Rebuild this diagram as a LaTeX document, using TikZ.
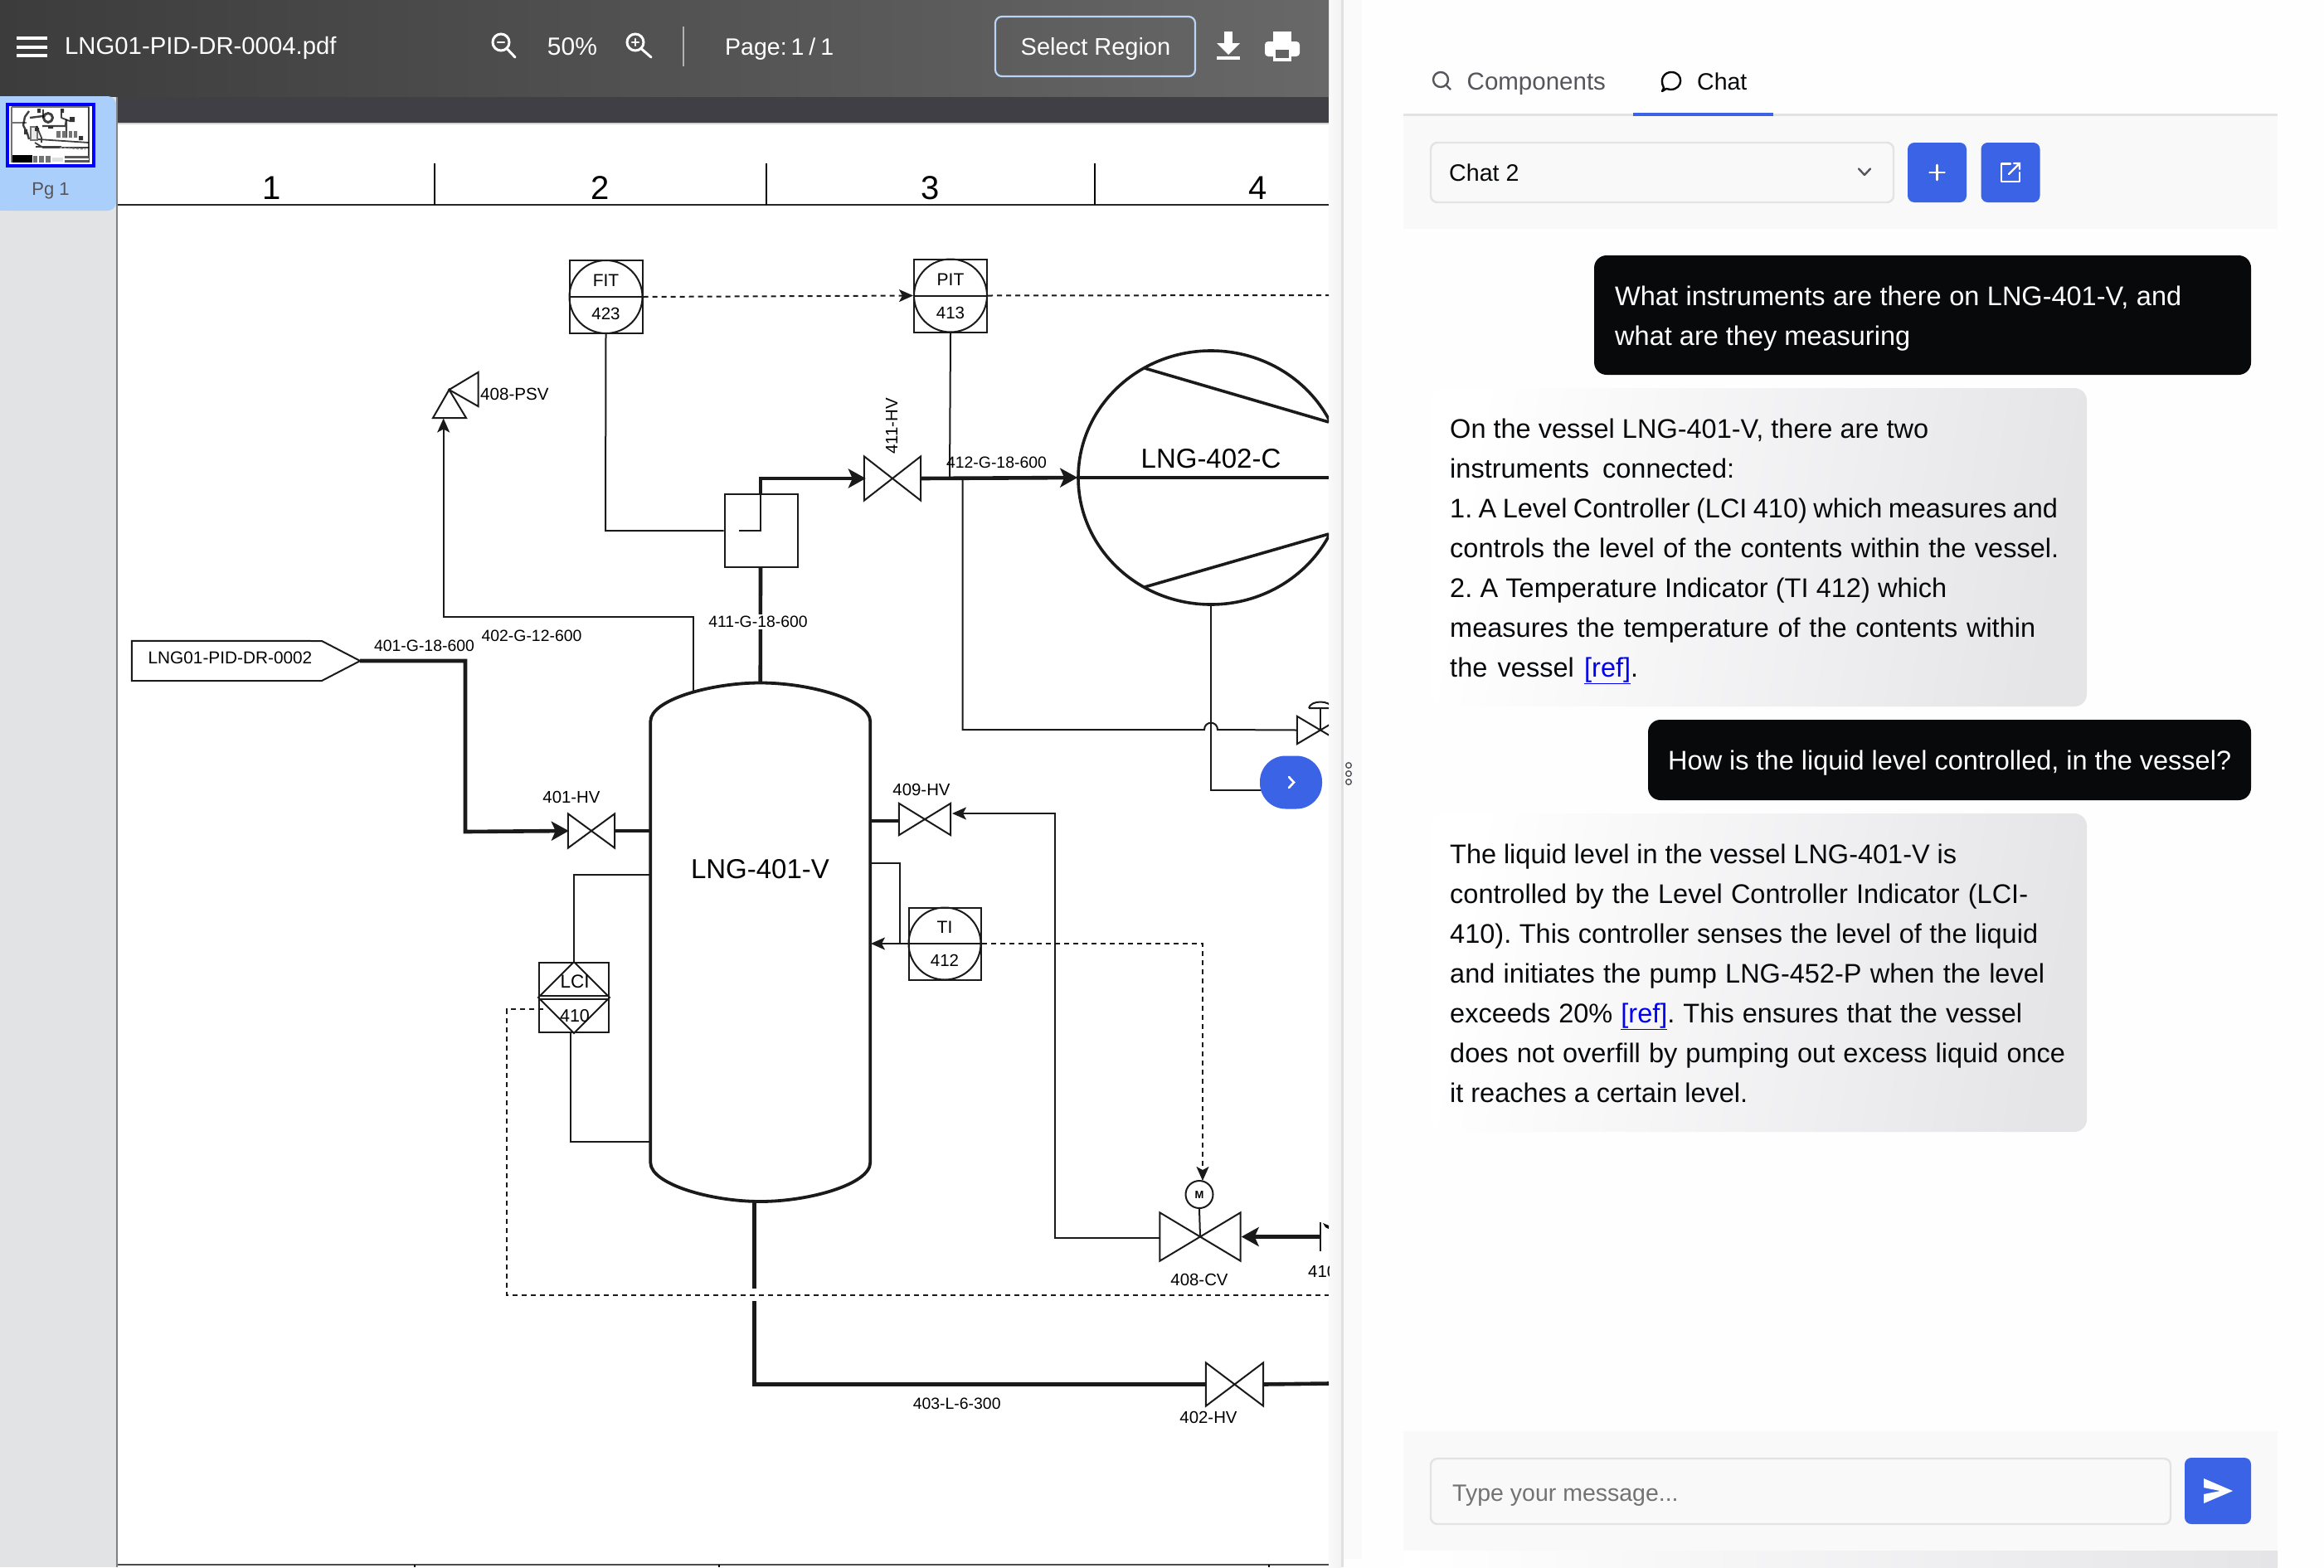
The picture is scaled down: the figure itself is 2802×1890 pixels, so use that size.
\documentclass[tikz,border=0pt]{standalone}
\usepackage{fontspec}
\setmainfont{Liberation Sans}
\usetikzlibrary{arrows.meta,shapes.geometric,calc}
\definecolor{hdL}{HTML}{3C3C3C}
\definecolor{hdR}{HTML}{686868}
\definecolor{hdDark}{HTML}{3F3F45}
\definecolor{sideG}{HTML}{E2E3E5}
\definecolor{sideB}{HTML}{ABCFFB}
\definecolor{uiBlue}{HTML}{3B63E5}
\definecolor{ink}{HTML}{08090B}
\definecolor{mut}{HTML}{55555C}
\definecolor{linew}{HTML}{E3E3E3}
\definecolor{pan}{HTML}{F9F9F9}
\definecolor{bg}{HTML}{FEFEFE}
\definecolor{bub}{HTML}{E5E5E8}
\definecolor{lnk}{HTML}{0000EE}
\definecolor{selb}{HTML}{B9D4F4}
\definecolor{pipe}{HTML}{1A1A1A}
\newcommand\fs[1]{\fontsize{#1}{#1}\selectfont}
% one chat line, set to the width it has in the picture
\newcommand\cl[2]{\hbox to #1pt{\spaceskip=.2em plus 1fil\relax #2}}
% label: [options]{name}{x}{y-centre of caps}{size}{text}
\newcommand\lab[6][]{\node[anchor=base,inner sep=0pt,font=\fs{#5},#1] (#2) at (#3,{#4+0.358*#5}) {#6};}
% valve: name, x, y, w, h
\newcommand\vlv[5]{\node[inner sep=0pt,minimum width=#4pt,minimum height=#5pt] (#1) at (#2,#3) {};
  \draw[thin line,fill=white] (#1.north west)--(#1.south east)--(#1.north east)--(#1.south west)--cycle;}
% instrument: name, x, y, w, h, top, bottom
\newcommand\instr[7]{\node[draw=pipe,line width=2pt,inner sep=0pt,minimum width=#4pt,minimum height=#5pt,fill=white] (#1) at (#2,#3) {};
  \draw[thin line] (#1.center) ellipse [x radius={#4*0.5pt},y radius={#5*0.5pt}];
  \draw[thin line] (#1.west)--(#1.east);
  \lab{#1t}{#2}{#3-20}{21}{#6}\lab{#1b}{#2}{#3+20.5}{20.5}{#7}}
\tikzset{
 thin line/.style={line width=2pt,draw=pipe},
 thick line/.style={line width=4.6pt,draw=pipe},
 sig line/.style={line width=2pt,draw=pipe,dash pattern=on 6pt off 5pt},
 small tip/.style={-{Stealth[length=17pt,width=15pt,inset=4pt]}},
 big tip/.style={-{Stealth[length=21pt,width=23pt,inset=5pt]}},
 ui/.style={inner sep=0pt,rounded corners=8pt},
 userbub/.style={fill=ink,rounded corners=15pt},
 botbub/.style={rounded corners=15pt,left color=white,right color=bub,shading angle=80},
 chatt/.style={anchor=north west,align=left,inner sep=0pt,font=\fontsize{32.5}{48}\selectfont\frenchspacing},
 icon/.style={line width=3pt,draw=white,line cap=round},
 thumbline/.style={line width=2.4pt,draw=black,opacity=.75,line join=round},
}
\begin{document}
\begin{tikzpicture}[x=1pt,y=-1pt]
\useasboundingbox (0,0) rectangle (2802,1890);
% page backgrounds
\fill[bg] (0,0) rectangle (2802,1890);
\fill[sideG] (0,116) rectangle (140,1890);
\shade[left color=black!2,right color=black!5] (1602,0) rectangle (1617,1890);
\fill[black!12] (1617,0) rectangle (1620,1890);
\fill[black!2] (1620,0) rectangle (1642,1880);
% paper
\fill[white] (142,148) rectangle (1602,1890);
\fill[black!18] (142,147) rectangle (1602,150);
\fill[hdDark] (141,116) rectangle (1602,148);
\fill[black!50] (140,116) rectangle (142,1890);
% ---------- P&ID
\begin{scope}
\clip (142,150) rectangle (1602,1890);
% ruler
\draw[line width=2.6pt,draw=black!85] (142,247)--(1602,247);
\coordinate (r1) at (524,197);\coordinate (r2) at (924,197);\coordinate (r3) at (1320,197);
\foreach \c in {r1,r2,r3}{\draw[line width=1.6pt] (\c) -- ++(0,50);}
\lab{n1}{328}{226.5}{40}{1}\lab{n2}{724}{226.5}{40}{2}\lab{n3}{1122}{226.5}{40}{3}\lab{n4}{1517}{226.5}{40}{4}
\draw[line width=2.4pt,draw=black!70] (142,1887)--(1602,1887);
\foreach \xx in {500,867,1530}{\draw[line width=1.6pt] (\xx,1887)--(\xx,1890);}
% vessel
\node[inner sep=0pt,minimum width=264.5pt,minimum height=532pt] (vessel) at (916.75,1136) {};
\draw[line width=3.8pt,draw=pipe,fill=white] (vessel.north west)
  .. controls (784.5,844) and (857,823.5) .. (916.75,823.5)
  .. controls (976,823.5) and (1049,844) .. (vessel.north east)
  -- (vessel.south east)
  .. controls (1049,1428) and (976,1449) .. (916.75,1449)
  .. controls (857,1449) and (784.5,1428) .. (vessel.south west) -- cycle;
\coordinate (vtop) at (916.75,823.5);
\lab{vesselt}{916.5}{1048}{33}{LNG-401-V}
% compressor
\node[draw=pipe,line width=3.6pt,ellipse,inner sep=0pt,minimum width=320pt,minimum height=306pt] (comp) at (1460,576) {};
\coordinate (cb1) at (1380,444);\coordinate (cb2) at (1602,509);\coordinate (cb3) at (1380,708);\coordinate (cb4) at (1602,644);
\draw[line width=3.6pt,draw=pipe] (cb1)--(cb2) (cb3)--(cb4);
\coordinate (cend) at (1602,576);
\draw[thick line] (comp.west)--(cend);
\lab{compt}{1460}{553}{33}{LNG-402-C}
% instruments
\instr{fit}{730.5}{358}{88}{88}{FIT}{423}
\instr{pit}{1146}{356.5}{88}{88}{PIT}{413}
\instr{ti}{1139}{1138}{87}{87}{TI}{412}
% LCI
\node[draw=pipe,line width=2pt,inner sep=0pt,minimum width=84pt,minimum height=84pt,fill=white] (lci) at (692,1203) {};
\draw[thin line] (lci.north)--(lci.east)--(lci.south)--(lci.west)--cycle;
\draw[thin line] ($(lci.west)+(0,-2)$)--($(lci.east)+(0,-2)$) ($(lci.west)+(0,2)$)--($(lci.east)+(0,2)$);
\lab{lcit}{693}{1183.5}{22.5}{LCI}\lab{lcib}{693}{1224.5}{21.5}{410}
% mixer box
\node[draw=pipe,line width=2pt,fill=white,inner sep=0pt,minimum width=88pt,minimum height=88pt] (mix) at (917.5,640) {};
\coordinate (mixin) at (891,640);\coordinate (mixup) at (917,640);
% valves
\vlv{hv411}{1076}{577}{68}{53}
\vlv{hv401}{713}{1002}{56}{41}
\vlv{hv409}{1115}{988}{62}{38}
\vlv{cv408}{1447}{1491.5}{97}{58}
\vlv{hv402}{1488.5}{1669.5}{69}{52}
\vlv{hvs}{1592}{880.5}{56}{33}
% M
\node[draw=pipe,line width=2pt,circle,inner sep=0pt,minimum size=33pt,fill=white] (mot) at (1446,1440.5) {};
\lab[font=\bfseries\fs{13}]{mott}{1446}{1440.5}{13}{M}
\draw[thin line] (mot.south)--(cv408.center);
% small valve actuator
\coordinate (act) at (1592,855);
\draw[thin line] (hvs.center)--(act);
\draw[thin line] (1578,854)--(1606,854) (1578,854) .. controls (1580,844) and (1604,844) .. (1606,854);
% tag
\node[inner sep=0pt,minimum width=275pt,minimum height=48pt] (tag) at (296.5,797) {};
\draw[thin line] (tag.north west)--(388,773)--(tag.east)--(388,821)--(tag.south west)--cycle;
\lab{tagt}{277.5}{793}{20.8}{LNG01-PID-DR-0002}
% thick pipes
\draw[thick line,big tip] (mix.north -| mixup)--(917,577)--($(hv411.west)+(2,0)$);
\draw[thick line,big tip] (hv411.east)--($(comp.west)+(1,0)$);
\draw[thick line,big tip] (tag.east)--(561,797)--(561,1003)--($(hv401.west)+(1,0)$);
\draw[thick line] (hv401.east)--(hv401.east -| vessel.west);
\draw[thick line] (1049,990)--(1083.5,990);
\coordinate (b1) at (909.5,1449);\coordinate (b2) at (909.5,1554);\coordinate (b3) at (909.5,1569);
\draw[thick line] (b1)--(b2) (b3)--(b3 |- hv402.west)--(hv402.west);
\coordinate (hv402out) at (1602,1668.5);
\draw[thick line] (hv402.east)--(hv402out);
\coordinate (cvin) at (1592,1491.5);
\draw[thick line,big tip] (cvin)--($(cv408.east)+(1,0)$);
\draw[thin line] (1592.3,1474)--(1592.3,1509);
\fill[black] (1595,1475)--(1602,1478)--(1602,1482)--(1598,1480)--cycle;
% mixer
\draw[thick line] (917,683.5)--(vtop);
\draw[thin line] (fit.south)--(730,640)--(mix.west);
\draw[thin line] (mixin)--(mixup)--(917,596);
% thin pipes
\draw[thin line] (pit.south)--(1145,577);
\draw[thin line] (1160.7,577)--(1160.7,880)--(1452,880) .. controls (1452,869) and (1468,869) .. (1468,880) -- (hvs.west);
\draw[thin line] (comp.south)--(1460,953)--(1525,953);
\draw[thin line,small tip] (835.6,834)--(835.6,744)--(534.7,744)--(534.7,504.5);
\draw[thin line,small tip] (1398,1493)--(1271.6,1493)--(1271.6,981)--(1148,981);
\draw[thin line] (1049,1041)--(1085,1041)--(1085,1138);
\draw[thin line,small tip] (ti.east)--(1050,1138);
\draw[thin line] (lci.north)--(692,1055)--(784.5,1055);
\draw[thin line] (688.4,1245)--(688.4,1376.5)--(784.5,1376.5);
% signal lines
\draw[sig line,small tip] (fit.east)--(pit.west);
\coordinate (pitout) at (1602,356);
\draw[sig line] (pit.east)--(pitout);
\draw[sig line,small tip] (ti.east)--(1450,1138)--(1450,1424);
\coordinate (lciout) at (1602,1562);
\draw[sig line] (655.4,1217)--(611,1217)--(611,1562)--(lciout);
% PSV
\coordinate (psv) at (541.5,470);
\coordinate (psva) at (522,504);\coordinate (psvb) at (562,504);
\coordinate (psvc) at (576.5,449);\coordinate (psvd) at (576.5,490);
\draw[thin line,fill=white] (psv)--(psvc)--(psvd)--cycle;
\draw[thin line,fill=white] (psv)--(psva)--(psvb)--cycle;
\lab[anchor=base west]{psvt}{579}{475}{20.6}{408-PSV}
% pipe labels
\lab[fill=white,inner xsep=2pt,inner ysep=2pt]{l411}{914}{750}{19.4}{411-G-18-600}
\lab{l402}{641}{766.6}{19.4}{402-G-12-600}
\lab{l401}{511.5}{779}{19.4}{401-G-18-600}
\lab{l412}{1201.5}{558}{19.4}{412-G-18-600}
\lab{l403}{1153.7}{1692.5}{19.4}{403-L-6-300}
\lab{v401t}{689}{961.5}{20.4}{401-HV}
\lab{v409t}{1111}{952.5}{20.4}{409-HV}
\lab{v408t}{1446}{1543.5}{20.4}{408-CV}
\lab{v402t}{1457}{1709}{20.4}{402-HV}
\lab[anchor=base west]{v410t}{1577}{1533}{20.4}{410}
\node[rotate=90,inner sep=0pt,font=\fs{20.4}] (v411t) at (1075,514) {411-HV};
\end{scope}
% blue scroll button
\node[fill=uiBlue,rounded corners=31pt,inner sep=0pt,minimum width=75pt,minimum height=64pt] (scrollb) at (1556.5,943.5) {};
\draw[icon,line width=2.6pt] (1554,937)--(1560,943.5)--(1554,950);
% handle dots
\foreach \yy in {923,933,943}{\draw[line width=1.4pt,draw=mut] (1626,\yy) circle (3.3pt);}
% ---------- Header
\shade[left color=hdL,right color=hdR] (0,0) rectangle (1602,116);
\foreach \yy in {44,55,65}{\fill[white] (20,\yy) rectangle (57,\yy+3.6);}
\lab[anchor=base west,text=white]{fname}{78}{55}{29.3}{LNG01-PID-DR-0004.pdf}
\draw[icon] (604,51) circle (10pt) (611.5,59)--(621,69);
\draw[icon,line width=2.4pt] (600,51)--(608,51);
\lab[text=white]{zoomv}{690}{56}{30}{50\%}
\draw[icon] (766,51) circle (10pt) (773.5,59)--(785,69);
\draw[icon,line width=2.4pt] (762,51)--(770,51) (766,47)--(766,55);
\draw[line width=1.6pt,draw=white!60!hdL] (824,32)--(824,80);
\lab[anchor=base west,text=white]{pagen}{874}{56}{28.5}{Page:\hspace{5pt}1\hspace{-2pt} / \hspace{-2pt}1}
\node[draw=selb,line width=2.2pt,ui,minimum width=241pt,minimum height=72pt] (selreg) at (1320.5,56) {};
\lab[text=white]{selt}{1321}{56}{29}{Select Region}
\fill[white] (1476,38) rectangle (1486,53);
\fill[white] (1467,52)--(1495,52)--(1481,66)--cycle;
\fill[white] (1467,68) rectangle (1495,72);
\fill[white] (1535,38) rectangle (1557,50);
\fill[white,rounded corners=4pt] (1525,50) rectangle (1567,68);
\fill[white] (1535,58) rectangle (1557,74);
\fill[hdR!95!black] (1538,60) rectangle (1554,70);
% ---------- Thumbnail
\fill[sideB,rounded corners=10pt] (0,116) -- (140,116) -- (140,254) -- (0,254) -- cycle;
\fill[sideB] (0,116) rectangle (20,254);
\node[draw=blue,line width=4pt,fill=white,inner sep=0pt,minimum width=104pt,minimum height=74pt] (thumb) at (61,163) {};
\begin{scope}
\clip (thumb.south west) rectangle (thumb.north east);
\draw[line width=1.2pt,black!55] (14,129)--(108,129) (14,129)--(14,196) (15,148)--(32,148);
\draw[line width=1.6pt,black!75] (107,129)--(107,196);
% vessel and pipes
\draw[line width=2.6pt,black!55,fill=black!8] (37,153) rectangle (45,169);
\draw[thumbline] (35,134)--(30,141)--(28,151)--(33,161)--(35,168);
\draw[thumbline] (36,142)--(52,140);
\draw[thumbline] (51,152)--(79,152)--(80,144) (80,144)--(80,166);
\draw[thumbline,line width=1.8pt] (52,132)--(52,142) (74,132)--(74,142)--(84,146);
\draw[thumbline,line width=3pt] (58,142) circle (5.5pt);
\draw[thumbline,line width=1.8pt] (44,152)--(50,166)--(50,172) (42,172)--(52,178)--(107,178) (46,168)--(107,172) (43,177)--(74,177);
\fill[black!80] (45,131) rectangle (49,136) (73,131) rectangle (77,136) (84,141) rectangle (90,147) (58,152) rectangle (64,155) (95,164) rectangle (100,169) (29,156) rectangle (33,162) (42,154) rectangle (47,158);
\fill[black!55] (68,158) rectangle (80,166) (83,158) rectangle (93,166);
\draw[line width=1.2pt,white] (74,158)--(74,166) (88,158)--(88,166);
\draw[line width=1.4pt,black!45,dash pattern=on 3pt off 2pt] (72,178)--(103,180);
% title block
\fill[black] (15,187) rectangle (39,196);
\fill[black!55] (40,188) rectangle (61,196);
\fill[black!12] (63,190) rectangle (76,195);
\fill[black!65] (78,188) rectangle (107,196);
\draw[line width=1.2pt,white] (78,192)--(107,192) (46,188)--(46,196) (54,188)--(54,196);
\end{scope}
\lab[text=mut]{pgt}{61}{228}{22}{Pg 1}
% ---------- Right panel
\draw[line width=2.2pt,linew] (1692,138.5)--(2746,138.5);
\fill[pan] (1692,140) rectangle (2746,276);
\fill[uiBlue] (1969,136) rectangle (2138,140);
\draw[line width=2.4pt,mut] (1737,96) circle (9pt) (1743.5,102.5)--(1749,108);
\lab[anchor=base west,text=mut]{tabc}{1768.5}{98}{29.5}{Components}
\draw[line width=2.4pt,ink,line join=round] (2006,106)  .. controls (2000,94) and (2008,87) .. (2015,87) .. controls (2030,87) and (2030,108) .. (2014,108) -- (2009,107) -- (2004,110) -- cycle;
\lab[anchor=base west,text=ink]{tabh}{2046}{98}{28.5}{Chat}
\node[draw=linew,line width=2.4pt,ui,fill=pan,minimum width=558pt,minimum height=72pt] (sel) at (2004,208) {};
\lab[anchor=base west,text=ink]{selc}{1747}{208}{28.6}{Chat 2}
\draw[line width=2.4pt,mut,line cap=round,line join=round] (2241,203.5)--(2248,211)--(2255,203.5);
\node[fill=uiBlue,ui,minimum width=71pt,minimum height=72pt] (addb) at (2335.5,208) {};
\draw[icon,line width=2.6pt] (2335.5,199)--(2335.5,217) (2326.5,208)--(2344.5,208);
\node[fill=uiBlue,ui,minimum width=71pt,minimum height=72pt] (extb) at (2424,208) {};
\draw[icon,line width=2.4pt,line join=round] (2424,197.5)--(2413,197.5)--(2413,219)--(2435,219)--(2435,208);
\draw[icon,line width=2.4pt] (2422,210)--(2435,197) (2428,197)--(2435,197)--(2435,204);
% bubbles
\fill[userbub] (1922,308) rectangle (2714,452);
\node[chatt,text=white] (m1) at (1947,332) {\rule{0pt}{36pt}\cl{683}{What instruments are there on LNG-401-V, and}\\\cl{356}{what are they measuring}};
\shade[botbub] (1725,468) rectangle (2516,852);
\node[chatt,text=ink] (m2) at (1748,492) {\rule{0pt}{36pt}\cl{577}{On the vessel LNG-401-V, there are two}\\\cl{343}{instruments connected:}\\\cl{733}{1. A Level Controller (LCI 410) which measures and}\\\cl{734}{controls the level of the contents within the vessel.}\\\cl{599}{2. A Temperature Indicator (TI 412) which}\\\cl{706}{measures the temperature of the contents within}\\\cl{227}{the vessel \textcolor{lnk}{\underline{[ref]}}.}};
\fill[userbub] (1987,868) rectangle (2714,965);
\node[chatt,text=white] (m3) at (2011,892) {\rule{0pt}{36pt}\cl{679}{How is the liquid level controlled, in the vessel?}};
\shade[botbub] (1725,981) rectangle (2516,1365);
\node[chatt,text=ink] (m4) at (1748,1005) {\rule{0pt}{36pt}\cl{611}{The liquid level in the vessel LNG-401-V is}\\\cl{697}{controlled by the Level Controller Indicator (LCI-}\\\cl{709}{410). This controller senses the level of the liquid}\\\cl{717}{and initiates the pump LNG-452-P when the level}\\\cl{690}{exceeds 20\% \textcolor{lnk}{\underline{[ref]}}. This ensures that the vessel}\\\cl{742}{does not overfill by pumping out excess liquid once}\\\cl{359}{it reaches a certain level.}};
% input
\fill[pan] (1692,1726) rectangle (2746,1870);
\shade[left color=white,right color=bub] (1692,1870) rectangle (2746,1890);
\node[draw=linew,line width=2.4pt,ui,fill=pan,minimum width=892pt,minimum height=79pt] (inp) at (2171,1798.5) {};
\lab[anchor=base west,text=black!55]{inpt}{1751}{1800}{28.5}{Type your message...}
\node[fill=uiBlue,ui,minimum width=80pt,minimum height=80pt] (send) at (2674,1798) {};
\fill[white] (2657,1783)--(2692,1798)--(2657,1813)--(2657,1802)--(2677,1798)--(2657,1794)--cycle;
\end{tikzpicture}
\end{document}
